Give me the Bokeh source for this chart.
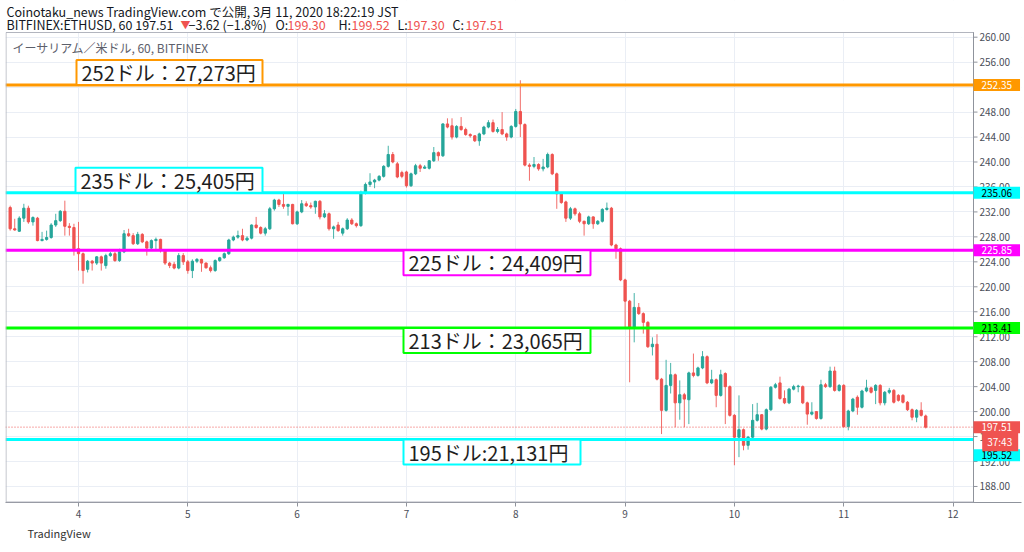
import pandas as pd
from bokeh.plotting import figure
from bokeh.models import (Range1d, Label, DaysTicker, DatetimeTickFormatter, Title,
                          FixedTicker, NumeralTickFormatter, ColumnDataSource, BoxAnnotation)
from bokeh.embed import file_html
from bokeh.resources import INLINE

# ---------------- data (ETH/USD 1h, BITFINEX) ----------------
first_candle = "2020-03-03 09:00"

opens = [
    232.7, 229.3, 228.9, 231.0, 232.6, 230.4, 231.0, 227.4, 227.6, 227.9,
    229.9, 230.6, 232.1, 229.7, 229.5, 226.1, 225.3, 222.8, 224.1, 223.8,
    224.8, 223.4, 225.0, 225.3, 224.2, 225.6, 228.5, 228.2, 226.9, 228.4,
    227.2, 226.2, 227.4, 227.6, 225.8, 223.8, 223.6, 223.0, 225.0, 224.0,
    222.6, 224.1, 224.4, 223.8, 223.05, 222.6, 224.2, 224.65, 225.3, 227.5,
    227.96, 228.2, 227.5, 227.8, 229.9, 229.5, 228.6, 229.3, 232.5, 233.9,
    233.2, 232.9, 233.2, 230.1, 232.0, 233.3, 233.0, 232.8, 233.7, 231.2,
    231.7, 229.3, 229.9, 228.6, 229.3, 230.7, 230.1, 229.8, 235.0, 236.4,
    236.8, 237.1, 237.7, 239.3, 241.2, 239.7, 238.3, 238.4, 236.2, 238.1,
    239.4, 239.0, 239.0, 240.2, 241.5, 241.0, 246.1, 245.8, 244.0, 245.7,
    245.2, 244.4, 244.2, 243.4, 244.5, 245.6, 246.3, 244.9, 245.2, 244.5,
    244.0, 245.7, 248.1, 246.0, 239.5, 239.3, 239.6, 238.9, 239.2, 241.2,
    238.1, 234.9, 233.6, 231.0, 232.5, 231.7, 230.5, 230.1, 231.2, 230.1,
    230.5, 232.4, 232.6, 226.7, 226.1, 221.1, 217.7, 213.5, 216.7, 215.7,
    214.3, 210.4, 210.8, 205.2, 200.2, 204.2, 205.9, 201.4, 202.7, 201.9,
    206.2, 205.8, 207.0, 208.8, 204.6, 205.1, 202.6, 206.1, 204.0, 199.4,
    195.9, 197.1, 194.6, 195.9, 198.6, 199.5, 197.2, 200.3, 203.9, 204.6,
    202.1, 201.4, 203.6, 204.0, 204.0, 201.4, 199.6, 200.0, 198.9, 204.3,
    204.0, 206.5, 203.4, 204.2, 197.6, 200.1, 202.3, 200.7, 203.3, 203.8,
    203.4, 204.2, 201.4, 203.1, 203.4, 202.6, 202.6, 201.5, 200.3, 199.1,
    200.2, 199.30,
]
highs = [
    233.0, 230.9, 231.3, 233.3, 233.0, 231.3, 231.2, 228.8, 229.0, 230.2,
    231.7, 232.3, 233.8, 230.2, 230.1, 230.4, 225.5, 224.3, 224.3, 224.9,
    225.0, 225.3, 225.6, 225.6, 226.1, 229.1, 229.3, 228.6, 228.8, 228.6,
    227.4, 227.6, 227.9, 227.7, 226.0, 224.0, 224.0, 225.4, 225.4, 224.3,
    224.4, 224.6, 224.5, 223.9, 223.4, 224.4, 224.8, 225.5, 227.7, 228.2,
    229.0, 229.3, 228.1, 230.0, 231.2, 229.7, 229.6, 232.8, 234.1, 234.1,
    235.2, 233.3, 233.3, 232.2, 233.9, 233.7, 233.5, 233.8, 233.9, 232.3,
    231.9, 229.8, 230.4, 229.5, 231.0, 231.0, 230.3, 235.4, 236.7, 238.2,
    237.3, 237.9, 239.5, 242.6, 241.6, 240.0, 238.6, 238.6, 238.3, 239.7,
    239.7, 239.5, 240.3, 242.4, 241.7, 246.2, 247.0, 247.0, 245.9, 247.2,
    245.5, 244.6, 244.3, 244.7, 245.8, 246.7, 246.8, 245.6, 248.0, 244.7,
    245.9, 248.5, 253.1, 246.2, 239.8, 240.8, 239.8, 240.5, 241.5, 241.4,
    238.3, 235.2, 233.8, 232.8, 232.7, 232.0, 230.6, 231.4, 231.3, 230.7,
    232.6, 233.5, 232.8, 226.9, 226.3, 221.3, 217.9, 219.0, 217.4, 215.9,
    214.5, 211.9, 212.4, 205.4, 208.3, 207.8, 206.1, 205.0, 203.0, 206.4,
    209.3, 207.2, 209.7, 209.0, 206.7, 205.3, 206.7, 206.3, 204.2, 199.6,
    202.6, 197.3, 196.1, 201.2, 201.4, 199.6, 200.5, 204.1, 204.6, 205.6,
    203.4, 203.8, 204.3, 204.3, 204.2, 201.6, 201.5, 200.1, 205.1, 204.6,
    207.2, 207.2, 204.4, 204.4, 200.3, 202.2, 202.6, 203.5, 205.1, 204.0,
    204.4, 204.4, 203.3, 203.8, 203.6, 202.8, 202.8, 201.7, 200.5, 200.4,
    201.5, 199.52,
]
lows = [
    229.0, 229.0, 228.8, 230.4, 230.1, 229.8, 227.3, 227.3, 227.4, 227.7,
    229.6, 230.4, 228.2, 228.2, 225.0, 222.6, 220.5, 222.3, 222.6, 223.5,
    222.6, 222.9, 224.8, 224.0, 224.0, 225.4, 228.0, 226.7, 226.7, 227.0,
    225.0, 226.0, 225.8, 225.5, 223.5, 223.0, 222.8, 222.8, 223.5, 222.1,
    221.4, 223.8, 222.4, 222.9, 222.3, 222.4, 224.0, 224.5, 225.1, 227.3,
    227.7, 227.3, 227.3, 227.6, 229.3, 228.4, 228.2, 229.1, 232.2, 232.8,
    232.5, 231.4, 230.0, 229.9, 231.8, 232.8, 232.5, 231.7, 230.8, 231.0,
    229.0, 227.7, 228.8, 228.2, 229.1, 229.9, 229.5, 229.6, 234.8, 236.0,
    235.8, 236.9, 237.5, 239.1, 239.8, 237.4, 237.4, 235.9, 236.0, 237.9,
    238.4, 238.9, 238.8, 240.0, 240.2, 240.8, 245.4, 243.6, 243.8, 245.0,
    244.2, 243.9, 243.2, 242.6, 244.3, 245.4, 244.7, 244.6, 244.3, 243.4,
    243.8, 245.5, 244.0, 239.3, 237.0, 239.0, 238.6, 238.5, 239.0, 237.9,
    232.5, 233.3, 230.4, 230.7, 231.4, 230.2, 228.2, 229.9, 229.3, 229.9,
    230.3, 232.2, 226.5, 224.5, 220.9, 213.5, 204.7, 211.1, 215.5, 212.5,
    210.2, 209.0, 205.0, 196.4, 200.0, 202.9, 197.5, 198.7, 197.5, 198.0,
    205.5, 205.6, 206.8, 204.4, 204.4, 200.7, 202.4, 198.0, 199.2, 191.4,
    192.7, 193.8, 193.9, 195.7, 198.4, 197.0, 197.0, 200.1, 203.7, 201.9,
    201.2, 201.2, 203.4, 203.1, 201.2, 197.9, 199.4, 198.7, 198.7, 203.8,
    203.8, 203.2, 203.2, 197.4, 197.0, 199.9, 199.5, 200.5, 203.1, 202.9,
    201.2, 201.0, 201.0, 202.8, 201.3, 201.6, 201.3, 200.1, 198.6, 198.3,
    199.2, 197.30,
]
closes = [
    229.3, 229.1, 231.0, 232.6, 230.4, 231.1, 227.4, 227.6, 227.9, 229.9,
    230.6, 232.1, 229.7, 229.5, 226.1, 225.3, 222.6, 224.1, 223.8, 224.8,
    223.8, 225.0, 225.3, 224.2, 225.6, 228.5, 228.2, 226.9, 228.4, 227.2,
    226.2, 227.4, 227.6, 225.8, 223.8, 223.4, 223.0, 225.0, 224.0, 222.6,
    224.1, 224.4, 223.8, 223.05, 222.6, 224.2, 224.65, 225.3, 227.5, 227.96,
    228.2, 227.5, 227.8, 229.9, 229.5, 228.6, 229.3, 232.5, 233.9, 233.2,
    232.9, 233.2, 230.1, 232.0, 233.3, 233.0, 232.8, 233.7, 231.2, 231.7,
    229.3, 229.6, 229.0, 229.3, 230.7, 230.1, 229.8, 235.0, 236.4, 236.8,
    237.1, 237.7, 239.3, 241.2, 240.0, 237.6, 237.7, 236.2, 238.1, 239.4,
    239.0, 239.2, 240.2, 241.5, 241.0, 246.1, 245.6, 244.0, 245.7, 245.2,
    244.4, 244.2, 243.4, 244.5, 245.6, 246.3, 244.9, 245.2, 244.5, 244.0,
    245.7, 248.1, 246.1, 239.5, 239.3, 239.6, 238.9, 239.2, 241.2, 238.1,
    234.9, 233.5, 231.0, 232.5, 231.7, 230.5, 230.1, 231.2, 230.1, 230.5,
    232.4, 232.6, 226.7, 226.1, 221.1, 217.7, 213.5, 216.7, 215.7, 214.3,
    210.4, 210.8, 205.2, 200.2, 204.2, 205.9, 201.4, 202.7, 202.0, 206.2,
    205.8, 207.0, 208.8, 204.6, 205.1, 202.6, 205.9, 204.0, 199.4, 195.9,
    197.1, 194.6, 195.9, 198.6, 199.5, 197.2, 200.3, 203.9, 204.3, 202.1,
    201.4, 203.6, 204.0, 204.1, 201.4, 199.6, 199.9, 198.9, 204.3, 204.0,
    206.5, 203.4, 204.2, 197.6, 200.1, 202.0, 200.7, 203.3, 203.8, 203.1,
    204.2, 201.4, 203.1, 203.4, 201.5, 201.8, 201.5, 200.3, 199.1, 200.2,
    199.4, 197.51,
]

level_prices = [252.35, 235.06, 225.85, 213.41, 195.52]
level_colors = ["#ff9800", "#00ffff", "#ff00ff", "#00ff00", "#00ffff"]
level_tag_text_colors = ["#ffffff", "#000000", "#ffffff", "#000000", "#000000"]
level_texts = ["252ドル：27,273円", "235ドル：25,405円", "225ドル：24,409円",
               "213ドル：23,065円", "195ドル:21,131円"]
price_ticks = list(range(188, 261, 4))
last_price = 197.51
countdown = "37:43"

header_line1 = "Coinotaku_news TradingView.com で公開, 3月 11, 2020 18:22:19 JST"
header_symbol = "BITFINEX:ETHUSD, 60 197.51"
header_change = "−3.62 (−1.8%)"
ohlc_names = ["O:", "H:", "L:", "C:"]
ohlc_values = ["199.30", "199.52", "197.30", "197.51"]
pane_title = "イーサリアム／米ドル, 60, BITFINEX"

# ---------------- layout constants ----------------
UP, DOWN = "#26a69a", "#ef5350"
GRAY = "#b2b5be"
FONT = "Noto Sans CJK JP"
FRAME_W, FRAME_H = 1016, 502        # frame covers page x 5..1021, y 0..502
PANE_R = 968                        # right edge of the candle pane (page x 973), screen units
PANE_T = 470                        # top edge of the candle pane (page y 32), screen units
PX_PER_HOUR = 4.555
Y0, Y1 = 185.433, 265.881

day0 = pd.Timestamp("2020-03-04")
x_start = day0 - pd.Timedelta(hours=73 / PX_PER_HOUR)
x_end = x_start + pd.Timedelta(hours=FRAME_W / PX_PER_HOUR)
x_pane_end = x_start + pd.Timedelta(hours=PANE_R / PX_PER_HOUR)

times = pd.date_range(first_candle, periods=len(closes), freq="h")
colors = [UP if c >= o else DOWN for o, c in zip(opens, closes)]
src = ColumnDataSource(dict(
    t=times, h=highs, l=lows, color=colors,
    top=[max(o, c) for o, c in zip(opens, closes)],
    bottom=[min(o, c) for o, c in zip(opens, closes)],
))

p = figure(x_axis_type="datetime", y_axis_location="right",
           width=5 + FRAME_W + 3, height=FRAME_H + 46,
           min_border_left=5, min_border_right=3, min_border_top=0, min_border_bottom=46,
           x_range=Range1d(x_start, x_end), y_range=Range1d(Y0, Y1),
           toolbar_location=None, output_backend="svg")
p.background_fill_color = "white"
p.border_fill_color = "white"
p.outline_line_color = None

# axes
p.yaxis.ticker = FixedTicker(ticks=price_ticks)
p.yaxis.formatter = NumeralTickFormatter(format="0.00")
p.yaxis.axis_line_color = None
p.yaxis.major_tick_line_color = None
p.yaxis.minor_tick_line_color = None
p.yaxis.major_tick_in = 0
p.yaxis.major_tick_out = 0
p.yaxis.major_label_standoff = -42      # labels sit just right of the pane edge (inside canvas)
p.xaxis.ticker = DaysTicker(days=list(range(1, 32)))
p.xaxis.formatter = DatetimeTickFormatter(days="%-d")
p.xaxis.axis_line_color = "#8f939c"
p.xaxis.major_tick_line_color = "#8f939c"
p.xaxis.minor_tick_line_color = None
p.xaxis.major_tick_in = 0
p.xaxis.major_tick_out = 4
p.xaxis.major_label_standoff = 3
for ax in (p.xaxis[0], p.yaxis[0]):
    ax.major_label_text_font = FONT
    ax.major_label_text_font_size = "10px"
    ax.major_label_text_color = "#4a4e58"
p.ygrid.ticker = FixedTicker(ticks=price_ticks)
p.xgrid.ticker = DaysTicker(days=list(range(1, 32)))
p.grid.grid_line_color = "#eaeef5"

# white covers over the header strip and the price-scale strip (hide grid there)
p.add_layout(BoxAnnotation(bottom=PANE_T, bottom_units="screen", fill_color="white",
                           fill_alpha=1, line_color=None, level="underlay"))
p.add_layout(BoxAnnotation(left=PANE_R, left_units="screen", fill_color="white",
                           fill_alpha=1, line_color=None, level="underlay"))

# small tick marks on the price scale (drawn at the tick prices, right of the pane edge)
p.segment(x0=[x_pane_end] * len(price_ticks),
          x1=[x_pane_end + pd.Timedelta(hours=4 / PX_PER_HOUR)] * len(price_ticks),
          y0=price_ticks, y1=price_ticks, line_color="#8f939c", line_width=1)

# candles
p.segment(x0="t", y0="l", x1="t", y1="h", line_color="color", line_width=1,
          line_alpha=0.85, source=src)
p.vbar(x="t", width=0.5 * 3600 * 1000, top="top", bottom="bottom",
       fill_color="color", line_color="color", line_width=1, source=src)

# last price dotted line and horizontal levels (end at the price scale)
p.segment(x0=[x_start], x1=[x_pane_end], y0=[last_price], y1=[last_price],
          line_color=DOWN, line_width=1, line_dash="1 2")
p.segment(x0=[x_start] * len(level_prices), x1=[x_pane_end] * len(level_prices),
          y0=level_prices, y1=level_prices, line_color=level_colors, line_width=3)

# pane border
p.add_layout(BoxAnnotation(left=0.5, right=PANE_R, top=PANE_T, bottom=0.5,
                           left_units="screen", right_units="screen",
                           top_units="screen", bottom_units="screen",
                           fill_alpha=0, line_color=GRAY, line_alpha=1, line_width=1))
p.add_layout(BoxAnnotation(left=PANE_R, right=PANE_R, top=PANE_T, bottom=0.5,
                           left_units="screen", right_units="screen",
                           top_units="screen", bottom_units="screen",
                           fill_alpha=0, line_color="#8f939c", line_alpha=1, line_width=1))

# level boxes (box + text)
BOX_H = 25 * (Y1 - Y0) / FRAME_H          # 25 px expressed in price units
box_left = [71, 70, 398, 398, 398]
box_right = [257, 257, 585, 585, 575]
box_above = [True, True, False, False, False]
for price, col, txt, bl, br, above in zip(level_prices, level_colors, level_texts,
                                          box_left, box_right, box_above):
    bot = price if above else price - BOX_H
    top = price + BOX_H if above else price
    p.add_layout(BoxAnnotation(left=bl, right=br, left_units="screen", right_units="screen",
                               bottom=bot, top=top, fill_color="white", fill_alpha=1,
                               line_color=col, line_alpha=1, line_width=2))
    p.add_layout(Label(x=bl + 5, x_units="screen", y=(bot + top) / 2, y_units="data",
                       text=txt, text_baseline="middle",
                       text_font=FONT, text_font_size="20px", text_color="#1e1e1e"))

# price tags on the price scale
def tag(x, y, y_off, txt, bg, fg, pad_l=8, pad_r=8):
    p.add_layout(Label(x=x, x_units="screen", y=y, y_units="data", y_offset=y_off,
                       text=txt, anchor="center_left",
                       text_font=FONT, text_font_size="10px", text_color=fg,
                       background_fill_color=bg,
                       padding=dict(left=pad_l, right=pad_r, top=2, bottom=2)))

tag_offsets = [0, 0, 0, 0, -15.7]
for price, col, tcol, off in zip(level_prices, level_colors, level_tag_text_colors, tag_offsets):
    tag(PANE_R, price, off, f"{price:.2f}", col, tcol)
tag(PANE_R, last_price, 0, f"{last_price:.2f}", DOWN, "white")
tag(PANE_R + 8.7, last_price, -14.5, countdown, DOWN, "white", 5, 6)

# pane title
p.add_layout(Label(x=7, y=455, x_units="screen", y_units="screen", text=pane_title,
                   text_font=FONT, text_font_size="12px", text_color="#5d606b",
                   text_baseline="middle"))

# header
def hdr(x, y, txt, color="#131722", size="12.5px"):
    p.add_layout(Label(x=x, y=y, x_units="screen", y_units="screen", text=txt,
                       text_font=FONT, text_font_size=size, text_color=color,
                       text_baseline="middle"))

hdr(1, 502 - 11, header_line1)
y2 = 502 - 24
hdr(1, y2, header_symbol)
hdr(175, y2, "▼", DOWN, "10px")
hdr(183, y2, header_change)
name_x = [270, 333, 392, 447]
val_x = [282, 346, 401, 460]
for i in range(4):
    hdr(name_x[i], y2, ohlc_names[i])
    hdr(val_x[i], y2, ohlc_values[i], DOWN)

# logo line below the time axis
p.add_layout(Title(text="TradingView", align="left", offset=22, standoff=4,
                   text_font=FONT, text_font_size="11px", text_font_style="normal",
                   text_color="#333333"), "below")

open("out.html", "w").write(file_html(p, INLINE))
